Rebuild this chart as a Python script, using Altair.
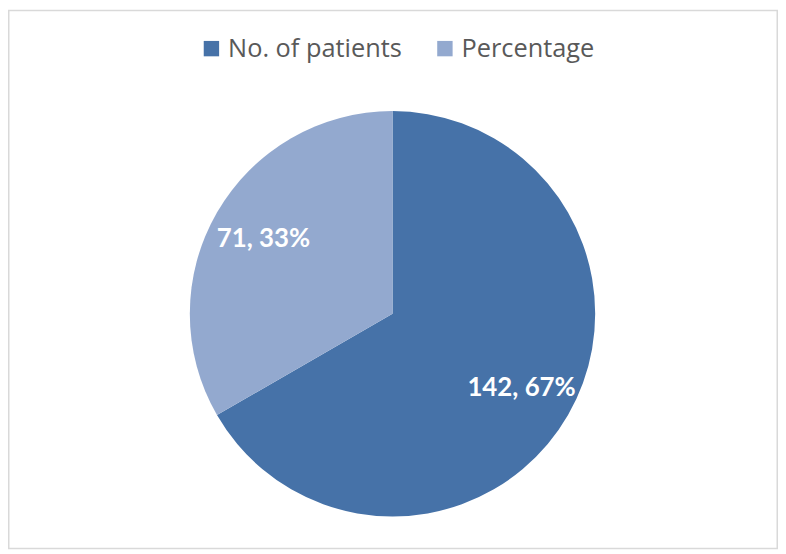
import altair as alt
import pandas as pd

categories = ["No. of patients", "Percentage"]
values = [142, 71]
percents = [67, 33]
colors = ["#4672A8", "#93A9CF"]

df = pd.DataFrame({
    "category": categories,
    "value": values,
    "pct": percents,
    "order": [0, 1],
})
df["label"] = [f"{v}, {p}%" for v, p in zip(values, percents)]

W, H = 775, 543
CX, CY = 387, 306

base = alt.Chart(df).encode(
    theta=alt.Theta("value:Q", stack=True),
    order=alt.Order("order:Q"),
)

pie = base.mark_arc(outerRadius=204, stroke=None).encode(
    x=alt.value(CX),
    y=alt.value(CY),
    color=alt.Color(
        "category:N",
        scale=alt.Scale(domain=categories, range=colors),
        sort=categories,
        legend=alt.Legend(
            title=None,
            orient="none",
            legendX=192,
            legendY=26,
            direction="horizontal",
            symbolType="square",
            symbolSize=240,
            symbolStrokeWidth=0,
            labelFont="Open Sans",
            labelFontSize=25.5,
            labelColor="#595959",
            labelLimit=400,
            labelOffset=4,
            columnPadding=30,
            padding=0,
        ),
    ),
)

labels = base.mark_text(
    radius=150,
    font="Lato",
    fontSize=26,
    fontWeight="bold",
    color="white",
    align="center",
    baseline="middle",
).encode(
    x=alt.value(CX),
    y=alt.value(CY),
    text="label:N",
)

border_df = pd.DataFrame({"a": [0]})
border = alt.Chart(border_df).mark_rect(
    fill=None, stroke="#d9d9d9", strokeWidth=1.5
).encode(
    x=alt.value(0.75), x2=alt.value(W - 0.75),
    y=alt.value(0.75), y2=alt.value(H - 0.75),
)

chart = alt.layer(border, pie, labels).properties(
    width=W,
    height=H,
    autosize=alt.AutoSizeParams(type="none"),
    padding=0,
    background="white",
).configure_view(stroke=None)

chart.save("out.html", embed_options={"renderer": "svg", "actions": False})
